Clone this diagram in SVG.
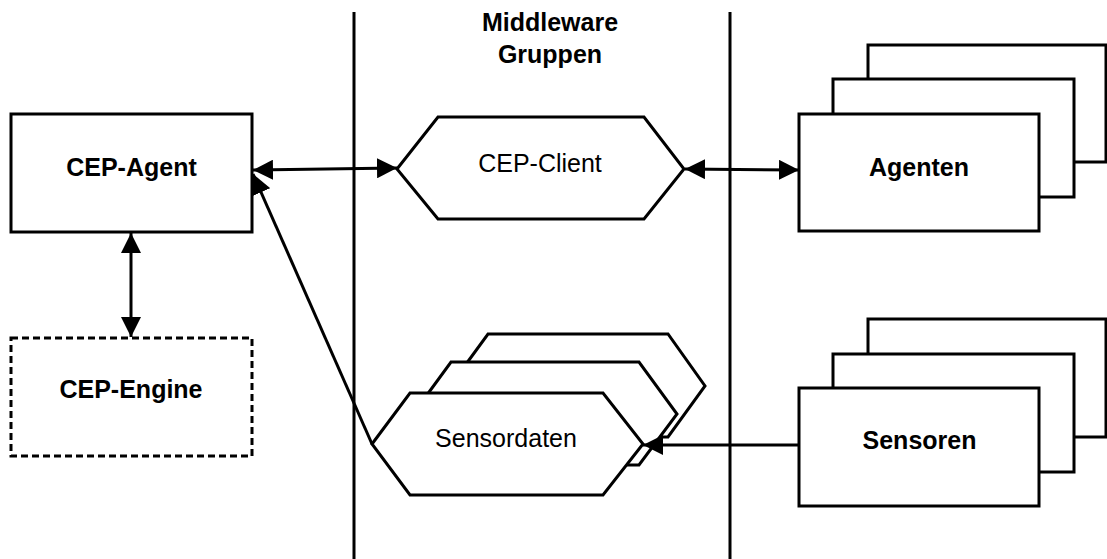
<svg xmlns="http://www.w3.org/2000/svg" width="1107" height="559" viewBox="0 0 1107 559">
<style>
.box{fill:#fff;stroke:#000;stroke-width:3}
.dash{fill:#fff;stroke:#000;stroke-width:3;stroke-dasharray:7 4}
.lane{stroke:#000;stroke-width:3;fill:none}
.conn{stroke:#000;stroke-width:3;fill:none}
.b{font-family:"Liberation Sans",Arial,sans-serif;font-size:25px;font-weight:bold;text-anchor:middle;fill:#000}
.n{font-family:"Liberation Sans",Arial,sans-serif;font-size:25px;text-anchor:middle;fill:#000}
</style>
<defs>
<marker id="ah" markerUnits="userSpaceOnUse" markerWidth="20" markerHeight="20" viewBox="0 0 20 20" refX="20" refY="10" orient="auto-start-reverse">
<path d="M0,0 L20,10 L0,20 z" fill="#000"/>
</marker>
</defs>
<rect width="1107" height="559" fill="#fff"/>
<g id="lanes">
<line class="lane" x1="354" y1="12" x2="354" y2="559"/>
<line class="lane" x1="730" y1="12" x2="730" y2="559"/>
<text class="b" x="550" y="31">Middleware</text>
<text class="b" x="550" y="63">Gruppen</text>
</g>
<g id="cep-agent">
<rect class="box" x="11" y="114" width="241" height="118"/>
<text class="b" x="131.5" y="176">CEP-Agent</text>
</g>
<g id="cep-engine">
<rect class="dash" x="11" y="338" width="241" height="118"/>
<text class="b" x="131" y="398">CEP-Engine</text>
</g>
<g id="cep-client">
<polygon class="box" points="397,169 438,117 644,117 684,169 644,219 438,219"/>
<text class="n" x="540" y="172">CEP-Client</text>
</g>
<g id="sensordaten">
<polygon class="box" points="450,386 488,334 668,334 705,386 668,437 488,437"/>
<polygon class="box" points="413,414 451,362 639,362 677,414 639,465 451,465"/>
<polygon class="box" points="372,444 410,393 603,393 643,444 603,495 410,495"/>
<text class="n" x="506" y="447">Sensordaten</text>
</g>
<g id="agenten">
<rect class="box" x="868" y="45" width="238" height="117"/>
<rect class="box" x="833" y="79" width="241" height="118"/>
<rect class="box" x="799" y="114" width="240" height="117"/>
<text class="b" x="919" y="176">Agenten</text>
</g>
<g id="sensoren">
<rect class="box" x="868" y="319" width="238" height="118"/>
<rect class="box" x="833" y="354" width="241" height="118"/>
<rect class="box" x="799" y="388" width="240" height="118"/>
<text class="b" x="919.5" y="449">Sensoren</text>
</g>
<g id="connectors">
<line class="conn" x1="131" y1="233" x2="131" y2="337" marker-start="url(#ah)" marker-end="url(#ah)"/>
<line class="conn" x1="253" y1="170" x2="397" y2="168" marker-start="url(#ah)" marker-end="url(#ah)"/>
<line class="conn" x1="685" y1="169" x2="799" y2="170" marker-start="url(#ah)" marker-end="url(#ah)"/>
<line class="conn" x1="799" y1="445" x2="643" y2="445" marker-end="url(#ah)"/>
<line class="conn" x1="372" y1="444" x2="253" y2="174" marker-end="url(#ah)"/>
</g>
</svg>
